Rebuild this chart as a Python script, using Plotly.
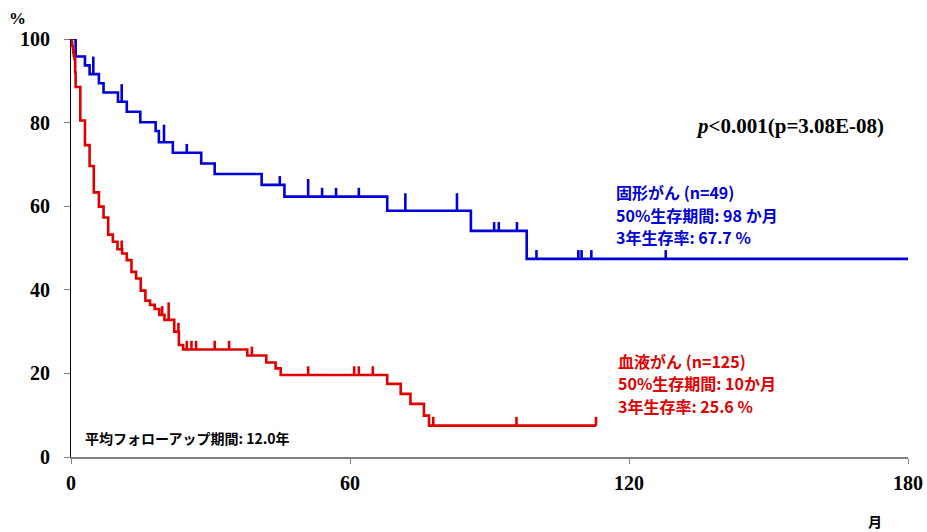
import plotly.graph_objects as go
from collections import Counter
import numpy as np

# ---- data ----
# 固形がん (solid tumour) Kaplan-Meier step curve
solid_t = [0, 1.0, 3.0, 4.0, 6.0, 7.0, 10.1, 12.0, 14.9, 18.2, 18.9, 21.9, 28.0, 30.9,
           41.0, 45.9, 68.0, 86.0, 98.0, 180.0]
solid_s = [100, 95.8, 93.7, 91.6, 89.4, 87.2, 85.0, 82.6, 80.1, 78.0, 75.3, 72.8, 70.2, 67.7,
           65.1, 62.3, 58.9, 54.1, 47.4, 47.4]
solid_cens = [4.8, 4.8, 10.9, 10.9, 20.0, 20.0, 24.9, 44.9, 51.0, 51.0, 54.0, 57.0, 61.9,
              71.9, 71.9, 83.0, 83.0, 91.0, 92.0, 95.9, 100.1, 109.1, 109.8, 111.9, 127.9]

# 血液がん (haematological cancer)
heme_t = [0, 0.1, 0.25, 0.4, 0.5, 0.6, 0.75, 0.9, 1.0, 2.0, 3.0, 4.0, 4.9, 6.0, 7.0, 8.0,
          9.0, 10.0, 11.0, 12.0, 13.0, 14.0, 15.0, 16.0, 17.0, 18.0, 19.0, 20.1, 22.2, 23.2,
          24.1, 37.9, 42.0, 44.0, 45.1, 68.0, 70.9, 73.0, 75.9, 77.0, 112.9]
heme_s = [100, 99.2, 98.4, 97.6, 96.8, 96.0, 95.2, 92.0, 88.5, 80.5, 74.6, 69.6, 63.3, 59.9,
          57.3, 53.2, 51.5, 49.7, 48.7, 47.1, 44.3, 42.7, 39.8, 37.4, 36.4, 35.4, 34.0, 32.8,
          30.0, 26.8, 25.7, 24.3, 22.6, 21.2, 19.6, 17.5, 15.1, 12.7, 9.9, 7.5, 7.5]
heme_cens = [10.9, 19.6, 21.0, 21.0, 23.1, 24.9, 25.9, 26.9, 30.9, 34.0, 38.9, 51.0, 60.9,
             61.9, 64.9, 77.9, 95.8, 112.9]

x_ticks = [0, 60, 120, 180]
y_ticks = [0, 20, 40, 60, 80, 100]

solid_label = ["固形がん (n=49)", "50%生存期間: 98 か月", "3年生存率: 67.7 %"]
heme_label = ["血液がん (n=125)", "50%生存期間: 10か月", "3年生存率: 25.6 %"]

BLUE = "#0000D8"
RED = "#E00000"
TICK_PER_CENSOR = 2.1


def censor_segments(times, surv, cens):
    xs, ys = [], []
    t_arr = np.array(times)
    for t, n in sorted(Counter(cens).items()):
        idx = np.searchsorted(t_arr, t, side="right") - 1
        lvl = surv[idx]
        xs += [t, t, None]
        ys += [lvl, lvl + TICK_PER_CENSOR * n, None]
    return xs, ys


fig = go.Figure()
for t, s, c, col in [(solid_t, solid_s, solid_cens, BLUE), (heme_t, heme_s, heme_cens, RED)]:
    fig.add_trace(go.Scatter(x=t, y=s, mode="lines", line=dict(color=col, width=2.6, shape="hv"),
                             cliponaxis=False, showlegend=False, hoverinfo="skip"))
    cx, cy = censor_segments(t, s, c)
    fig.add_trace(go.Scatter(x=cx, y=cy, mode="lines", line=dict(color=col, width=2.6),
                             cliponaxis=False, showlegend=False, hoverinfo="skip"))

L, R, T, B = 71, 19, 39, 75
W, H = 927, 532
PW, PH = W - L - R, H - T - B


def px(x):
    return (x - L) / PW


def py(y):
    return (H - B - y) / PH


serif = "Liberation Serif, Times New Roman, serif"
cjk = "Noto Sans CJK JP, sans-serif"

ann = []
ann.append(dict(x=px(18), y=py(19), text="%", font=dict(family=serif, size=17, color="black", weight="bold")))
ann.append(dict(x=px(875), y=py(521), text="月", font=dict(family=cjk, size=14, color="black", weight="bold")))
ann.append(dict(x=px(886), y=py(126), xanchor="right", text="<i>p</i>&lt;0.001(p=3.08E-08)",
                font=dict(family=serif, size=21, color="black", weight="bold")))
for txt, yy in zip(solid_label, [192, 214.5, 237]):
    ann.append(dict(x=px(614), y=py(yy), xanchor="left", text=txt,
                    font=dict(family=cjk, size=16, color=BLUE, weight="bold")))
for txt, yy in zip(heme_label, [360.5, 383, 405.5]):
    ann.append(dict(x=px(616), y=py(yy), xanchor="left", text=txt,
                    font=dict(family=cjk, size=16, color=RED, weight="bold")))
ann.append(dict(x=px(83), y=py(438), xanchor="left", text="平均フォローアップ期間: 12.0年",
                font=dict(family=cjk, size=14, color="black", weight="bold")))
for a in ann:
    a.update(xref="paper", yref="paper", showarrow=False)
    a.setdefault("xanchor", "center")
    a.setdefault("yanchor", "middle")

fig.update_layout(
    width=W, height=H,
    margin=dict(l=L, r=R, t=T, b=B, pad=0, autoexpand=False),
    paper_bgcolor="white", plot_bgcolor="white",
    annotations=ann,
    xaxis=dict(range=[0, 180], tickvals=x_ticks, showline=True, linecolor="#808080", linewidth=1.5,
               ticks="outside", ticklen=5, tickcolor="#808080", showgrid=False, zeroline=False,
               tickfont=dict(family=serif, size=20, color="black", weight="bold"),
               ticklabelstandoff=2, automargin=False),
    yaxis=dict(range=[0, 100], tickvals=y_ticks, showline=True, linecolor="black", linewidth=1,
               ticks="outside", ticklen=6, tickcolor="#808080", showgrid=False, zeroline=False,
               tickfont=dict(family=serif, size=20, color="black", weight="bold"),
               ticklabelstandoff=10, automargin=False),
)

fig.write_html("out.html")
